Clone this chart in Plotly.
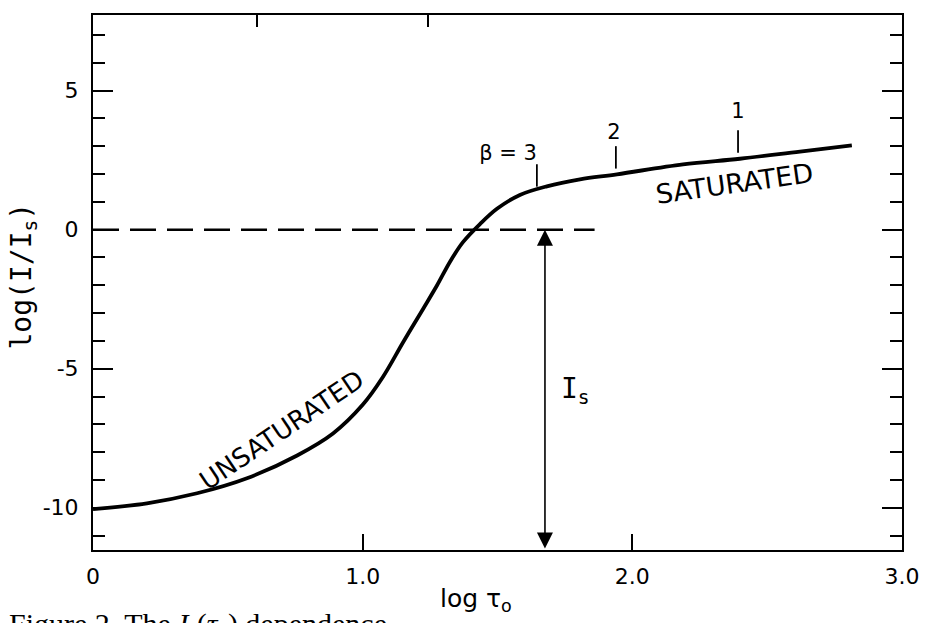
import plotly.graph_objects as go

# ---- data ----
log_tau = [0.0, 0.2, 0.386, 0.571, 0.757, 0.89, 1.0, 1.075, 1.15, 1.224, 1.276,
           1.324, 1.372, 1.435, 1.498, 1.583, 1.683, 1.806, 1.943, 2.188, 2.399,
           2.622, 2.814]
log_I = [-10.05, -9.84, -9.48, -8.94, -8.12, -7.33, -6.3, -5.3, -4.05, -2.85, -2.0,
         -1.15, -0.45, 0.2, 0.75, 1.25, 1.56, 1.81, 1.99, 2.35, 2.55, 2.81, 3.03]

dash_x = [0.0, 1.86]
dash_y = [0.0, 0.0]

beta_tick_x = [1.646, 1.939, 2.392]
beta_tick_y = [1.95, 2.6, 3.17]
beta_label_x = [1.539, 1.932, 2.392]
beta_label_y = [2.71, 3.46, 4.21]
beta_labels = ["β = 3", "2", "1"]

Is_x = 1.676
x_tickvals = [0, 1, 2, 3]
x_ticktext = ["0", "1.0", "2.0", "3.0"]
y_tickvals = [5, 0, -5, -10]
y_ticktext = ["5", "0", "-5", "-10"]
top_ticks = [0.608, 1.242]

X_RANGE = [0, 3.0]
Y_RANGE = [-11.52, 7.72]

FONT = "DejaVu Sans"

fig = go.Figure()

fig.add_trace(go.Scatter(x=dash_x, y=dash_y, mode="lines",
                         line=dict(color="black", width=2.5, dash="26px,11px"),
                         showlegend=False, hoverinfo="skip"))
fig.add_trace(go.Scatter(x=log_tau, y=log_I, mode="lines",
                         line=dict(color="black", width=3.8, shape="spline", smoothing=1.0),
                         showlegend=False))
fig.add_trace(go.Scatter(x=beta_tick_x, y=beta_tick_y, mode="markers",
                         marker=dict(symbol="line-ns-open", size=16, color="black",
                                     line=dict(color="black", width=1.8)),
                         showlegend=False, hoverinfo="skip"))
fig.add_trace(go.Scatter(x=beta_label_x, y=beta_label_y, mode="text",
                         text=beta_labels,
                         textfont=dict(family=FONT, size=21, color="black"),
                         showlegend=False, hoverinfo="skip"))
# invisible trace to activate top axis
fig.add_trace(go.Scatter(x=X_RANGE, y=[None, None], xaxis="x2", mode="lines",
                         showlegend=False, hoverinfo="skip"))

# double arrow for I_s
fig.add_annotation(x=Is_x, y=0, ax=Is_x, ay=Y_RANGE[0], xref="x", yref="y",
                   axref="x", ayref="y", text="", showarrow=True,
                   arrowhead=2, arrowside="end+start", arrowsize=2.0,
                   arrowwidth=1.6, arrowcolor="black", standoff=0, startstandoff=0)
fig.add_annotation(x=1.79, y=-5.79, xref="x", yref="y", showarrow=False,
                   text="I<sub>s</sub>",
                   font=dict(family="DejaVu Sans Mono", size=28, color="black"))
fig.add_annotation(x=0.70, y=-7.2, xref="x", yref="y", showarrow=False,
                   text="UNSATURATED", textangle=-34,
                   font=dict(family=FONT, size=26, color="black"))
fig.add_annotation(x=2.377, y=1.67, xref="x", yref="y", showarrow=False,
                   text="SATURATED", textangle=-8,
                   font=dict(family=FONT, size=27, color="black"))

# axis titles
fig.add_annotation(x=-0.086, y=0.512, xref="paper", yref="paper", showarrow=False,
                   xanchor="center", yanchor="middle",
                   text="log(I/I<sub>s</sub>)", textangle=-90,
                   font=dict(family="DejaVu Sans Mono", size=28, color="black"))
fig.add_annotation(x=0.473, y=-0.093, xref="paper", yref="paper", showarrow=False,
                   xanchor="center", yanchor="middle",
                   text="log τ<sub>o</sub>",
                   font=dict(family=FONT, size=25, color="black"))
# caption (cut off at bottom like reference)
fig.add_annotation(x=-0.106, y=-0.103, xref="paper", yref="paper", showarrow=False,
                   xanchor="left", yanchor="top",
                   text="Figure 2. The <i>I</i><sub>s</sub>(<i>τ</i><sub>o</sub>) dependence.",
                   font=dict(family="Liberation Serif", size=30, color="black"))

fig.update_layout(
    width=927, height=623,
    margin=dict(l=85, r=33, t=5, b=81),
    plot_bgcolor="white", paper_bgcolor="white",
    showlegend=False,
    xaxis=dict(range=X_RANGE, tickvals=x_tickvals, ticktext=x_ticktext,
               ticks="inside", ticklen=16, tickwidth=2, tickcolor="black",
               showline=True, linecolor="black", linewidth=2, mirror=True,
               showgrid=False, zeroline=False, ticklabelstandoff=6,
               tickfont=dict(family=FONT, size=22, color="black")),
    xaxis2=dict(range=X_RANGE, overlaying="x", side="top", tickvals=top_ticks,
                showticklabels=False, ticks="inside", ticklen=12, tickwidth=2,
                tickcolor="black", showgrid=False, zeroline=False, showline=False),
    yaxis=dict(range=Y_RANGE, tickvals=y_tickvals, ticktext=y_ticktext,
               ticks="inside", ticklen=20, tickwidth=2, tickcolor="black",
               minor=dict(dtick=1, tick0=0, ticks="inside", ticklen=12,
                          tickwidth=2, tickcolor="black", showgrid=False),
               showline=True, linecolor="black", linewidth=2, mirror="ticks",
               showgrid=False, zeroline=False, ticklabelstandoff=8,
               tickfont=dict(family=FONT, size=22, color="black")),
)

fig.write_html("out.html")
